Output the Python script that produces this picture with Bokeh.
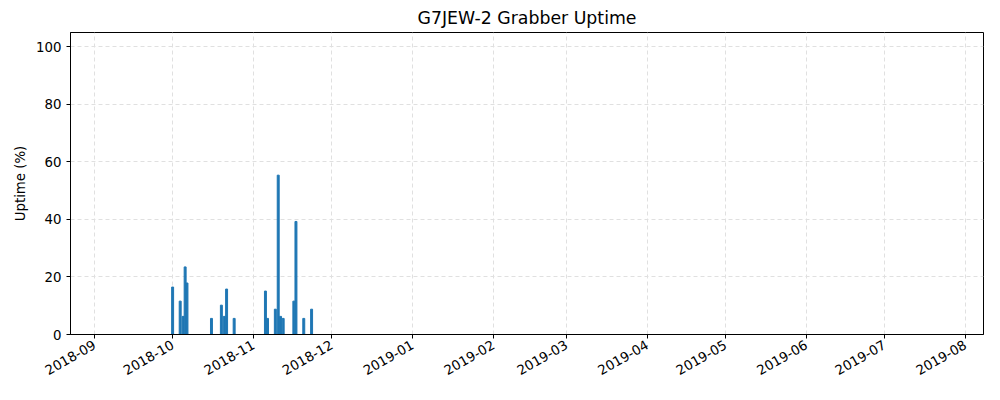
from datetime import datetime, timedelta
from bokeh.plotting import figure
from bokeh.models import MonthsTicker, DatetimeTickFormatter, Range1d, FixedTicker
from bokeh.embed import file_html
from bokeh.resources import INLINE

# day offsets from 2018-10-01 and uptime values
day_offsets = [0.0, 2.9, 4.0, 4.8, 5.5, 14.9, 18.7, 19.8, 20.7, 23.6,
               35.6, 36.4, 39.4, 40.5, 41.4, 42.4, 46.5, 47.3, 50.3, 53.3]
uptime = [16.5, 11.6, 6.3, 23.5, 17.9, 5.6, 10.2, 6.3, 15.8, 5.6,
          15.1, 5.6, 8.8, 55.4, 6.3, 5.6, 11.6, 39.3, 5.6, 8.8]

base = datetime(2018, 10, 1)
dates = [base + timedelta(days=d) for d in day_offsets]

p = figure(title="G7JEW-2 Grabber Uptime", x_axis_type="datetime",
           width=984, height=384, output_backend="svg", toolbar_location=None,
           min_border_left=70, min_border_right=1, min_border_top=29, min_border_bottom=50,
           x_range=Range1d(datetime(2018, 8, 22, 20), datetime(2019, 8, 8)),
           y_range=Range1d(0, 105))
p.vbar(x=dates, top=uptime, width=0.75 * 86400000, color="#1f77b4")

p.title.align = "center"
p.title.text_font = "DejaVu Sans"
p.title.text_font_size = "13pt"
p.title.text_font_style = "normal"
p.title.text_color = "black"
p.yaxis.axis_label = "Uptime (%)"
p.yaxis.axis_label_text_font = "DejaVu Sans"
p.yaxis.axis_label_text_font_style = "normal"
p.yaxis.axis_label_text_font_size = "10pt"
p.yaxis.axis_label_text_color = "black"
p.yaxis.ticker = FixedTicker(ticks=[0, 20, 40, 60, 80, 100])
p.xaxis.ticker = MonthsTicker(months=list(range(12)))
p.xaxis.formatter = DatetimeTickFormatter(months="%Y-%m", days="%Y-%m")
p.xaxis.major_label_orientation = 0.52
for ax in (p.xaxis, p.yaxis):
    ax.major_label_text_font = "DejaVu Sans"
    ax.major_label_text_font_size = "10pt"
    ax.major_label_text_color = "black"
    ax.minor_tick_line_color = None
    ax.major_tick_in = 0
    ax.major_tick_out = 4
p.grid.grid_line_color = "#e0e0e0"
p.grid.grid_line_dash = "4 3"
p.outline_line_color = "black"

open("out.html", "w").write(file_html(p, INLINE))
